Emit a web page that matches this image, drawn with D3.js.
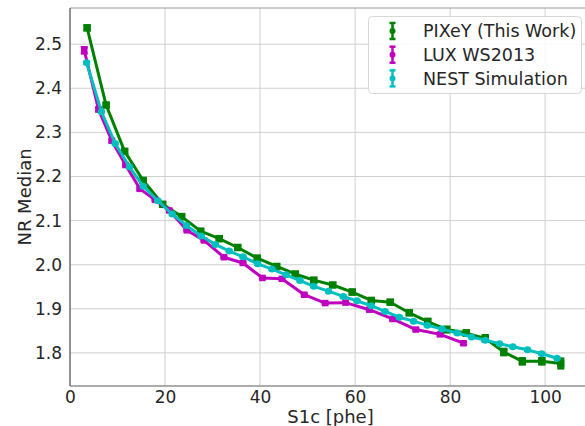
<!DOCTYPE html>
<html>
<head>
<meta charset="utf-8">
<script src="https://cdn.jsdelivr.net/npm/d3@7"></script>
<style>
  html, body { margin: 0; padding: 0; background: #fff; }
  svg { display: block; font-family: "DejaVu Sans", sans-serif; }
</style>
</head>
<body>
<svg id="chart" width="585" height="426"></svg>
<script>
// PIXeY measurement
const pixeyS1 = [3.6, 7.6, 11.5, 15.4, 19.5, 23.5, 27.5, 31.4, 35.3, 39.4, 43.5, 47.4, 51.3,
                 55.3, 59.4, 63.4, 67.4, 71.4, 75.3, 79.3, 83.4, 87.4, 91.3, 95.2, 99.3, 103.3];
const pixeyNR = [2.537, 2.362, 2.257, 2.191, 2.137, 2.109, 2.076, 2.059, 2.039, 2.015, 1.996, 1.979, 1.965,
                 1.954, 1.938, 1.919, 1.915, 1.891, 1.871, 1.853, 1.845, 1.833, 1.802, 1.781, 1.781, 1.776];
const pixeyErr = [0.005, 0.004, 0.004, 0.004, 0.004, 0.004, 0.004, 0.004, 0.004, 0.004, 0.004, 0.004, 0.004,
                  0.004, 0.005, 0.005, 0.005, 0.005, 0.006, 0.006, 0.006, 0.007, 0.007, 0.007, 0.007, 0.011];

// LUX WS2013
const luxS1 = [3.0, 6.0, 8.8, 11.7, 14.7, 17.9, 20.9, 24.6, 28.2, 32.4, 36.4, 40.5, 44.6,
               49.3, 53.7, 58.0, 63.0, 67.9, 72.8, 77.9, 82.8];
const luxNR = [2.486, 2.352, 2.281, 2.226, 2.172, 2.147, 2.123, 2.078, 2.055, 2.017, 2.004, 1.970, 1.968,
               1.932, 1.913, 1.914, 1.898, 1.877, 1.853, 1.842, 1.822];
const luxErr = [0.007, 0.004, 0.003, 0.003, 0.003, 0.002, 0.002, 0.002, 0.002, 0.002, 0.002, 0.002, 0.002,
                0.002, 0.002, 0.002, 0.002, 0.002, 0.002, 0.003, 0.003];

// NEST simulation
const nestS1 = [3.5, 6.6, 9.5, 12.5, 15.4, 18.5, 21.5, 24.5, 27.6, 30.6, 33.5, 36.4, 39.5, 42.5,
                45.5, 48.4, 51.3, 54.4, 57.5, 60.4, 63.4, 66.3, 69.3, 72.3, 75.2, 78.3, 81.5,
                84.5, 87.4, 90.4, 93.2, 96.3, 99.3, 102.5];
const nestNR = [2.458, 2.347, 2.275, 2.222, 2.178, 2.145, 2.115, 2.089, 2.065, 2.046, 2.031, 2.018, 2.002, 1.990,
                1.977, 1.964, 1.951, 1.940, 1.928, 1.918, 1.907, 1.894, 1.881, 1.872, 1.863, 1.854, 1.845,
                1.836, 1.829, 1.821, 1.814, 1.807, 1.798, 1.788];
const nestErr = nestS1.map(() => 0.002);

const xTicks = [0, 20, 40, 60, 80, 100];
const yTicks = [1.8, 1.9, 2.0, 2.1, 2.2, 2.3, 2.4, 2.5];

const seriesList = [
  { name: "PIXeY (This Work)", color: "#008000", shape: "square", size: 7.5, s1: pixeyS1, nr: pixeyNR, err: pixeyErr },
  { name: "LUX WS2013",        color: "#bf00bf", shape: "square", size: 6.5, s1: luxS1,   nr: luxNR,   err: luxErr },
  { name: "NEST Simulation",   color: "#00bfbf", shape: "circle", size: 7,   s1: nestS1,  nr: nestNR,  err: nestErr }
];

const svg = d3.select("#chart");
const plot = { left: 70, top: 8, right: 586, bottom: 386 };

const x = d3.scaleLinear().domain([0, 108.6]).range([plot.left, plot.right]);
const y = d3.scaleLinear().domain([1.725, 2.582]).range([plot.bottom, plot.top]);

const textColor = "#262626";

// grid
const grid = svg.append("g");
grid.selectAll("line.gx").data(xTicks).join("line")
  .attr("x1", d => x(d)).attr("x2", d => x(d))
  .attr("y1", plot.top).attr("y2", plot.bottom)
  .attr("stroke", "#cfcfcf").attr("stroke-width", 1);
grid.selectAll("line.gy").data(yTicks).join("line")
  .attr("x1", plot.left).attr("x2", plot.right)
  .attr("y1", d => y(d)).attr("y2", d => y(d))
  .attr("stroke", "#cfcfcf").attr("stroke-width", 1);

// spines
svg.append("line").attr("x1", plot.left).attr("x2", plot.right)
  .attr("y1", plot.top).attr("y2", plot.top).attr("stroke", "#9a9a9a").attr("stroke-width", 1);
svg.append("line").attr("x1", plot.left).attr("x2", plot.left)
  .attr("y1", plot.top).attr("y2", plot.bottom).attr("stroke", "#5a5a5a").attr("stroke-width", 1.2);
svg.append("line").attr("x1", plot.left).attr("x2", plot.right)
  .attr("y1", plot.bottom).attr("y2", plot.bottom).attr("stroke", "#5a5a5a").attr("stroke-width", 1.2);

// axes (labels only, no tick marks)
const xAxis = svg.append("g").attr("transform", `translate(0,${plot.bottom})`)
  .call(d3.axisBottom(x).tickValues(xTicks).tickFormat(d3.format("d")).tickSize(0).tickPadding(5));
const yAxis = svg.append("g").attr("transform", `translate(${plot.left},0)`)
  .call(d3.axisLeft(y).tickValues(yTicks).tickFormat(d3.format(".1f")).tickSize(0).tickPadding(8));
[xAxis, yAxis].forEach(a => {
  a.select(".domain").remove();
  a.selectAll("text").attr("fill", textColor).style("font-size", "17px")
    .style("font-family", "DejaVu Sans, sans-serif");
});

svg.append("text").attr("x", (plot.left + 585) / 2 + 3).attr("y", 423)
  .attr("text-anchor", "middle").attr("fill", textColor).style("font-size", "18px")
  .text("S1c [phe]");
svg.append("text").attr("transform", `translate(31,${(plot.top + plot.bottom) / 2}) rotate(-90)`)
  .attr("text-anchor", "middle").attr("fill", textColor).style("font-size", "18px")
  .text("NR Median");

// draw one marker
function marker(g, shape, cx, cy, size, color) {
  if (shape === "square") {
    g.append("rect").attr("x", cx - size / 2).attr("y", cy - size / 2)
      .attr("width", size).attr("height", size).attr("fill", color);
  } else {
    g.append("circle").attr("cx", cx).attr("cy", cy).attr("r", size / 2).attr("fill", color);
  }
}

const dataLayer = svg.append("g");
seriesList.forEach(s => {
  const pts = s.s1.map((v, i) => ({ s1: v, nr: s.nr[i], err: s.err[i] }));
  const g = dataLayer.append("g");
  g.append("path").datum(pts)
    .attr("d", d3.line().x(d => x(d.s1)).y(d => y(d.nr)))
    .attr("fill", "none").attr("stroke", s.color).attr("stroke-width", 3)
    .attr("stroke-linejoin", "round");
  // error bars with caps
  pts.forEach(d => {
    const y0 = y(d.nr - d.err), y1 = y(d.nr + d.err), cx = x(d.s1);
    g.append("line").attr("x1", cx).attr("x2", cx).attr("y1", y0).attr("y2", y1)
      .attr("stroke", s.color).attr("stroke-width", 2.5);
    [y0, y1].forEach(cy => g.append("line")
      .attr("x1", cx - 3.5).attr("x2", cx + 3.5).attr("y1", cy).attr("y2", cy)
      .attr("stroke", s.color).attr("stroke-width", 2.5));
    marker(g, s.shape, cx, y(d.nr), s.size, s.color);
  });
});

// legend
const lg = svg.append("g");
lg.append("rect").attr("x", 368.5).attr("y", 16.5).attr("width", 213).attr("height", 77)
  .attr("rx", 4).attr("fill", "#ffffff").attr("fill-opacity", 0.85)
  .attr("stroke", "#d6d6d6").attr("stroke-width", 1);
seriesList.forEach((s, i) => {
  const cy = 31 + i * 23.7, cx = 392.5;
  lg.append("line").attr("x1", cx).attr("x2", cx).attr("y1", cy - 8).attr("y2", cy + 8)
    .attr("stroke", s.color).attr("stroke-width", 2.5);
  [cy - 8, cy + 8].forEach(yy => lg.append("line")
    .attr("x1", cx - 3).attr("x2", cx + 3).attr("y1", yy).attr("y2", yy)
    .attr("stroke", s.color).attr("stroke-width", 2.5));
  marker(lg, "circle", cx, cy, 6, s.color);
  lg.append("text").attr("x", 423).attr("y", cy).attr("dy", "0.36em")
    .attr("fill", textColor).style("font-size", "17.5px").text(s.name);
});
</script>
</body>
</html>
